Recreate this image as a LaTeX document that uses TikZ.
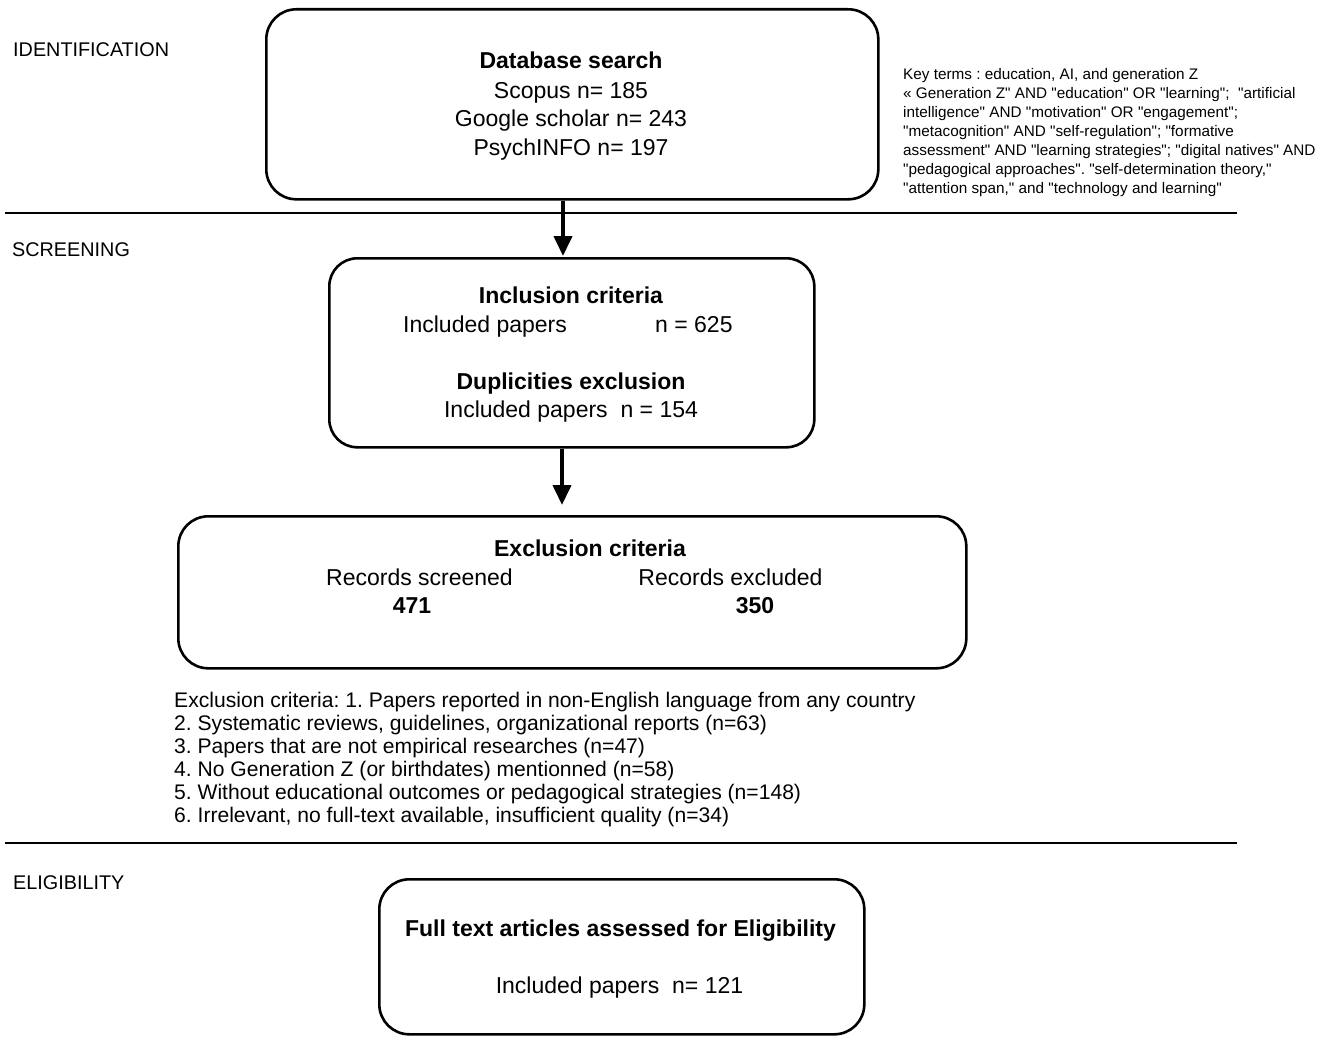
\documentclass[tikz,border=0pt]{standalone}
\usepackage{fontspec}
\setmainfont{Liberation Sans}[Ligatures=TeXOff]
\usetikzlibrary{arrows.meta}
\frenchspacing
\begin{document}
\begin{tikzpicture}[x=1pt,y=-1pt,
  box/.style={draw,line width=2.6pt,rounded corners=#1,inner sep=0pt,anchor=north west},
  box/.default=28pt,
  big/.style={font=\fontsize{23}{28}\selectfont,inner sep=0pt,anchor=base},
  bigb/.style={font=\fontsize{23}{28}\selectfont\bfseries,inner sep=0pt,anchor=base},
  stage/.style={font=\fontsize{19.8}{23}\selectfont,inner sep=0pt,anchor=base west},
  keyt/.style={font=\fontsize{15.3}{19}\selectfont,inner sep=0pt,anchor=base west},
  excl/.style={font=\fontsize{21.1}{23}\selectfont,inner sep=0pt,anchor=base west},
  sep/.style={line width=2pt},
  flow/.style={line width=4pt,-{Triangle[width=18pt,length=20pt]}}
]
\useasboundingbox (0,0) rectangle (1325,1041);

% separators
\coordinate (s1a) at (5,213); \coordinate (s1b) at (1237,213);
\coordinate (s2a) at (5,843); \coordinate (s2b) at (1237,843);
\draw[sep] (s1a) -- (s1b);
\draw[sep] (s2a) -- (s2b);

% stage labels
\node[stage] (lid) at (13,57) {IDENTIFICATION};
\node[stage] (lsc) at (12,256) {SCREENING};
\node[stage] (lel) at (13,889) {ELIGIBILITY};

% boxes
\node[box=30pt,minimum width=612pt,minimum height=190pt] (b1) at (265,8) {};
\node[box=28pt,minimum width=485pt,minimum height=189pt] (b2) at (328,257) {};
\node[box=30pt,minimum width=788pt,minimum height=152pt] (b3) at (177,515) {};
\node[box=30pt,minimum width=485pt,minimum height=155pt] (b4) at (378,878) {};

% box 1 text
\node[bigb] (t11) at (571,69) {Database search};
\node[big] (t12) at (571,98) {Scopus n= 185};
\node[big] (t13) at (571,126) {Google scholar n= 243};
\node[big] (t14) at (571,155) {PsychINFO n= 197};

% box 2 text
\node[bigb] (t21) at (571,303) {Inclusion criteria};
\node[big,anchor=base west] (t22) at (403,332) {Included papers};
\node[big,anchor=base west] (t23) at (655,332) {n = 625};
\node[bigb] (t24) at (571,389) {Duplicities exclusion};
\node[big] (t25) at (571,417) {Included papers\ \ n = 154};

% box 3 text
\node[bigb] (t31) at (590,556) {Exclusion criteria};
\node[big] (t32) at (419.5,585) {Records screened};
\node[bigb] (t33) at (412,613) {471};
\node[big] (t34) at (730.5,585) {Records excluded};
\node[bigb] (t35) at (755,613) {350};

% box 4 text
\node[bigb] (t41) at (620.5,936) {Full text articles assessed for Eligibility};
\node[big] (t42) at (619.5,993) {Included papers\ \ n= 121};

% key terms
\node[keyt] (k1) at (903,79.5) {Key terms : education, AI, and generation Z};
\node[keyt] (k2) at (903,98.5) {« Generation Z" AND "education" OR "learning";\ \ "artificial};
\node[keyt] (k3) at (903,117.5) {intelligence" AND "motivation" OR "engagement";};
\node[keyt] (k4) at (903,136.5) {"metacognition" AND "self-regulation"; "formative};
\node[keyt] (k5) at (903,155.5) {assessment" AND "learning strategies"; "digital natives" AND};
\node[keyt] (k6) at (903,174.5) {"pedagogical approaches". "self-determination theory,"};
\node[keyt] (k7) at (903,193.5) {"attention span," and "technology and learning"};

% exclusion list
\node[excl] (e1) at (174,707.5) {Exclusion criteria: 1. Papers reported in non-English language from any country};
\node[excl] (e2) at (174,730.5) {2. Systematic reviews, guidelines, organizational reports (n=63)};
\node[excl] (e3) at (174,753.5) {3. Papers that are not empirical researches (n=47)};
\node[excl] (e4) at (174,776.5) {4. No Generation Z (or birthdates) mentionned (n=58)};
\node[excl] (e5) at (174,799.5) {5. Without educational outcomes or pedagogical strategies (n=148)};
\node[excl] (e6) at (174,822.5) {6. Irrelevant, no full-text available, insufficient quality (n=34)};

% arrows
\draw[flow,shorten >=1pt] (b1.south -| 563,0) -- (b2.north -| 563,0);
\draw[flow,shorten >=10pt] (b2.south -| 562,0) -- (b3.north -| 562,0);
\end{tikzpicture}
\end{document}
